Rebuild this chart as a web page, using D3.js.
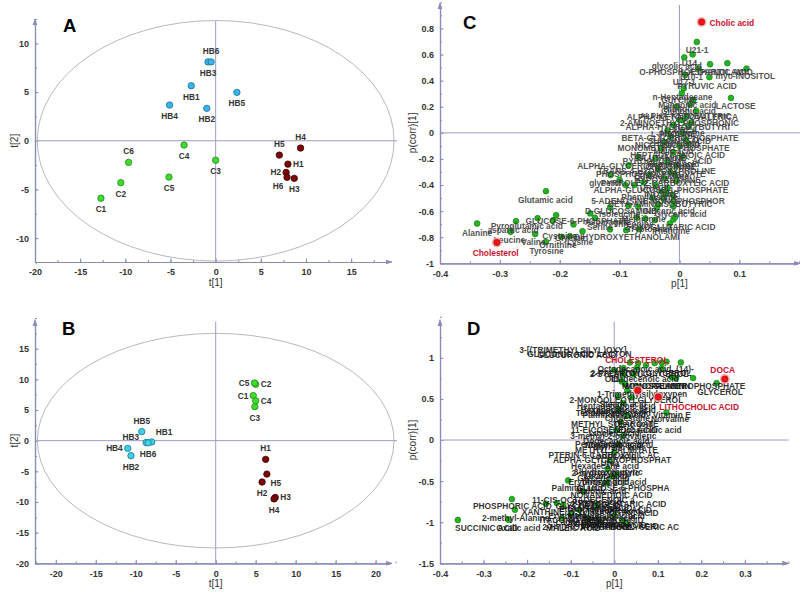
<!DOCTYPE html>
<html><head><meta charset="utf-8">
<script src="https://cdn.jsdelivr.net/npm/d3@7"></script>
<style>
html,body{margin:0;padding:0;background:#fff;}
svg{display:block;font-family:"Liberation Sans",Arial,sans-serif;}
</style></head>
<body>
<svg id="chart" width="800" height="599"></svg>
<script>
// ---------- DATA ----------
// Panel A (score plot)
const aNames = ['HB1','HB2','HB3','HB4','HB5','HB6','C1','C2','C3','C4','C5','C6','H1','H2','H3','H4','H5','H6'];
const aT1 = [-2.7,-0.98,-0.85,-5.1,2.35,-0.5,-12.7,-10.5,0.0,-3.5,-5.17,-9.64,8.0,7.8,8.7,9.4,7.05,7.9];
const aT2 = [5.65,3.33,8.1,3.67,4.97,8.1,-5.9,-4.3,-2.0,-0.44,-3.73,-2.22,-2.4,-3.25,-3.86,-0.75,-1.47,-3.75];
const aXTicks = [-20,-15,-10,-5,0,5,10,15];
const aYTicks = [-10,-5,0,5,10];
const aEllipse = [19.75, 12.35];

// Panel B (score plot)
const bNames = ['HB1','HB2','HB3','HB4','HB5','HB6','C1','C2','C3','C4','C5','H1','H2','H3','H4','H5'];
const bT1 = [-8.0,-10.6,-8.7,-11.0,-9.25,-8.45,4.7,5.0,4.9,5.0,4.85,6.25,5.8,7.45,7.3,6.4];
const bT2 = [-0.2,-2.45,-0.3,-1.25,1.47,-0.35,7.35,9.2,5.55,6.5,9.4,-3.05,-6.75,-9.25,-9.5,-5.45];
const bXTicks = [-20,-15,-10,-5,0,5,10,15,20];
const bYTicks = [-20,-15,-10,-5,0,5,10,15];
const bEllipse = [22.3, 17.5];

// Panel C (loading S-plot)
const cGreen = [
 [0.029,0.697],[0.022,0.601],[0.008,0.578],[0.051,0.526],[0.080,0.534],[0.112,0.493],[0.0095,0.444],[0.050,0.427],
 [0.032,0.493],[0.007,0.34],[0.004,0.302],[0.086,0.268],[0.023,0.25],[0.018,0.22],[0.028,0.169],[0.005,0.097],
 [0.012,0.13],[0.02,0.08],[-0.005,0.2],[0.0,0.1],[-0.01,0.06],[0.015,0.05],[-0.02,0.02],[0.005,0.0],
 [-0.015,-0.03],[0.01,-0.05],[-0.025,-0.07],[0.0,-0.1],[-0.03,-0.12],[-0.01,-0.15],[0.005,-0.18],[-0.04,-0.2],
 [-0.02,-0.22],[-0.005,-0.25],[-0.035,-0.28],[-0.015,-0.3],[-0.05,-0.32],[-0.025,-0.35],[-0.005,-0.37],[-0.04,-0.4],
 [-0.06,-0.38],[-0.02,-0.42],[-0.075,-0.4],[-0.03,-0.45],[-0.045,-0.5],[-0.09,-0.4],[-0.1,-0.36],[-0.01,-0.52],
 [-0.035,-0.55],[0.015,-0.08],[-0.008,-0.32],[-0.115,-0.324],[-0.085,-0.248],[-0.069,-0.184],
 [-0.116,-0.572],[-0.085,-0.559],[-0.069,-0.567],[-0.038,-0.575],[-0.027,-0.503],[-0.010,-0.562],[-0.011,-0.477],
 [-0.022,-0.465],[-0.149,-0.618],[-0.141,-0.651],[-0.116,-0.740],[-0.089,-0.746],[-0.067,-0.738],[-0.010,-0.664],
 [-0.016,-0.695],[-0.041,-0.669],[-0.057,-0.656],[-0.071,-0.649],[-0.177,-0.702],[-0.197,-0.797],[-0.183,-0.792],
 [-0.223,-0.447],[-0.338,-0.695],[-0.273,-0.677],[-0.237,-0.654],[-0.206,-0.631],[-0.211,-0.67],[-0.282,-0.759],
 [-0.241,-0.776],[-0.223,-0.835],[-0.162,-0.754],[-0.007,-0.644]
];
const cRed = [[0.037,0.85],[-0.305,-0.84]];
const cLabels = [
 ['U21-1',0.0295,0.633],['U14',0.0167,0.539],['glycolic acid',-0.0045,0.513],['O-PHOSPHOETHANOLAMI',0.022,0.467],
 ['L-ASPARTIC ACID',0.062,0.47],['U10-1',0.02,0.43],['myo-INOSITOL',0.110,0.432],['U17-1',0.008,0.39],['PYRUVIC ACID',0.046,0.36],
 ['n-Heptadecane',0.005,0.276],['GLYCINE',0.0,0.25],['Mannonic acid',0.013,0.212],['LACTOSE',0.094,0.204],['Ribitol',-0.005,0.18],
 ['Gluconic acid',0.015,0.17],['ALPHA-KETOBUTYRIC',0.01,0.128],['ALPHA-KETOISOVALERICA',0.005,0.12],
 ['2-AMINOETHYLPHOSPHONIC',0.0,0.072],['ALPHA-HYDROXYBUTYRI',-0.003,0.043],['UREA',0.01,0.02],['L-PROLINE',-0.01,-0.01],
 ['Methionine',0.005,0.0],['BETA-GLYCEROPHOSPHATE',0.001,-0.038],['SUCCINIC ACID',0.0,-0.06],['Citric acid',0.0,-0.08],
 ['NICOTINIC ACID',-0.02,-0.09],['MONOMETHYLPHOSPHATE',-0.01,-0.117],['Malic acid',-0.01,-0.14],
 ['HEPTADECANOIC ACID',-0.003,-0.166],['GLUTAMINE',-0.03,-0.19],['PYROGLUTAMIC ACID',-0.02,-0.212],['Fumaric acid',-0.01,-0.24],
 ['ALPHA-GLYCEROPHOSPHAT',-0.072,-0.253],['CREATININE',-0.015,-0.26],['TRANS-4-HYDROXYPROLINE',-0.038,-0.291],
 ['PHOSPHOENOLPYRUVATE',-0.048,-0.317],['Ethanolamine',-0.03,-0.33],['HYPOXANTHINE',-0.02,-0.36],
 ['glycerol',-0.124,-0.388],['PYRROLE-2-CARBOXYLIC ACID',-0.024,-0.388],['URACIL',-0.04,-0.42],['ALPHA-GLUCOSE-1-PHOSPHATE',-0.031,-0.44],
 ['INOSINE',-0.03,-0.47],['Phenylalanine',-0.05,-0.49],
 ['Glutamic acid',-0.224,-0.511],['5-ADENOSINE MONOPHOSPHOR',-0.036,-0.524],['BETA-AMINOISOBUTYRIC',-0.032,-0.547],
 ['D-GLUCOSAMINE',-0.098,-0.598],['Glucaric acid',-0.018,-0.598],['Isoleucine',-0.1,-0.62],['Glyceric acid',0.002,-0.623],
 ['Methionine',-0.06,-0.66],['GLUCOSE-6-PHOSPHATE',-0.171,-0.677],['Asparagine',-0.12,-0.68],['Pyroglutamic acid',-0.255,-0.715],
 ['aspartic acid',-0.278,-0.746],['Tryptophan',-0.05,-0.74],
 ['Alanine',-0.338,-0.766],['Leucine',-0.284,-0.822],['Valine',-0.244,-0.84],['Glycine',-0.183,-0.805],
 ['Ornithine',-0.203,-0.861],['Lysine',-0.166,-0.835],['Cysteine',-0.2,-0.79],['Serine',-0.133,-0.72],
 ['Threonine',-0.077,-0.70],['2-OXOGLUTARIC ACID',-0.016,-0.72],['Histidine',-0.012,-0.756],
 ['DIHYDROXYETHANOLAMI',-0.088,-0.80],['Tyrosine',-0.222,-0.904]
];
const cRedLabels = [['Cholic acid',0.0875,0.843],['Cholesterol',-0.307,-0.92]];
const cXTicks = [-0.4,-0.3,-0.2,-0.1,0,0.1];
const cYTicks = [-1,-0.8,-0.6,-0.4,-0.2,0,0.2,0.4,0.6,0.8];

// Panel D (loading S-plot)
const dGreen = [
 [0.036,0.944],[0.055,0.937],[0.073,0.912],[0.093,0.937],[0.109,0.944],[0.120,0.953],[0.153,0.944],[0.021,0.876],
 [0.053,0.883],[0.109,0.876],[0.132,0.766],[0.142,0.754],[0.181,0.754],[0.235,0.693],[0.053,0.652],[0.009,0.530],
 [0.120,0.336],[0.017,0.713],[0.021,0.794],[0.02,0.45],[0.01,0.38],[0.03,0.3],[0.015,0.22],[0.005,0.12],[0.02,0.05],
 [0.01,-0.05],[0.0,-0.15],[-0.01,-0.25],[-0.015,-0.35],[0.005,-0.42],[0.03,0.6],[0.04,0.52],[0.025,0.68],[0.0,0.85],
 [0.045,0.8],[-0.235,-0.718],[-0.228,-0.848],[-0.243,-0.970],[-0.106,-0.491],[-0.157,-0.775],[-0.132,-0.767],
 [-0.117,-0.787],[-0.071,-0.625],[-0.017,-0.523],[-0.006,-0.443],[-0.359,-0.973],[-0.1,-0.9],[-0.06,-0.95],
 [-0.03,-1.0],[0.0,-0.92],[-0.08,-0.85],[0.02,-0.98],[-0.12,-0.95],[-0.04,-0.8],[0.03,-1.02]
];
const dRed = [[0.254,0.742],[0.054,0.603],[0.101,0.523]];
const dLabels = [
 ['3-[(TRIMETHYLSILYL)OXY]',-0.095,1.091],['GLUCURONIC ACID',-0.086,1.038],['GLUCONIC ACID LACTON',-0.08,1.045],
 ['Octadecanoic acid, (14)-',0.072,0.864],['2-STEAROYLGLYCEROL',0.057,0.807],['2-PALMITOYLGLYCEROL',0.062,0.82],
 ['ID',0.002,0.742],['Octadecenoic acid',0.063,0.742],['MONOSTEARIN',0.09,0.661],['MONOPALMITIN',0.1,0.661],
 ['GLYCEROPHOSPHATE',0.195,0.661],['GLYCEROL',0.243,0.58],['1-Trimethylsilyloxypen',0.064,0.56],
 ['2-MONOOLEOYLGLYCEROL',0.028,0.491],['Stearic acid',0.02,0.44],['Heptadecanoic acid',0.005,0.41],['Hexadecanoic acid',0.009,0.369],
 ['Arachidic acid',0.01,0.35],['Tetradecanoic acid',-0.002,0.328],['Palmitoleic acid',0.0,0.3],['Vitamin E',0.132,0.308],
 ['Cholestane',0.03,0.27],['Norvaline',0.128,0.26],
 ['METHYL STEAROATE',0.0015,0.195],['Oleic acid',0.044,0.195],['11-EICOSENOIC ACID',0.0,0.126],['Eicosanoic acid',0.082,0.126],
 ['Linoleic acid',0.0,0.08],['3-methyl-2-oxovaleric',-0.002,0.045],['Dodecanoic acid',0.005,-0.016],['Pentadecanoic acid',0.0,-0.05],
 ['Nonanoic acid',-0.002,-0.065],['Myristic acid',0.01,-0.09],
 ['METHYL PALMITATE',0.005,-0.118],['PTERIN-6-CARBOXYLIC AC',-0.024,-0.178],['Lauric acid',0.0,-0.2],['ALPHA-GLYCEROPHOSPHAT',-0.005,-0.247],
 ['Urea',-0.01,-0.28],['Hexadecane acid',-0.021,-0.32],['3-Hydroxybutyric',-0.014,-0.389],['2-hydroxybutyric',-0.02,-0.40],
 ['Lactic acid',-0.02,-0.44],['Glyceric acid',-0.025,-0.462],['Erythronic acid',-0.035,-0.515],['phosphoric acid',0.0,-0.515],
 ['Palmitic acid',-0.085,-0.584],['GLUCOSE-6-PHOSPHA',0.02,-0.584],['Malonic acid',-0.03,-0.62],['NONANEDIOIC ACID',-0.006,-0.665],
 ['11-CIS-OCTADECENOIC a',-0.071,-0.726],['Pyruvic acid',-0.04,-0.76],['2-KETOGLUTARIC ACID',0.01,-0.78],['GLYCOLIC ACID',-0.06,-0.8],
 ['PHOSPHORIC ACID',-0.234,-0.807],['XANTHINE',-0.163,-0.876],
 ['2-methyl-Alanine',-0.226,-0.949],['SUCCINIC ACID',-0.293,-1.075],['Oxalic acid',-0.220,-1.075],
 ['GLUTARIC ACID',-0.033,-0.827],['D-Xylose',-0.064,-0.888],['Threonic acid',-0.002,-0.868],['ADIPIC ACID',0.028,-0.848],
 ['L-Lactic acid',-0.094,-1.002],['Glycolic acid',-0.033,-1.018],['2-HYDROXYPYRIDINE',-0.064,-1.058],
 ['TARTARIC ACID',0.028,-1.05],['MALEIC ACID',-0.094,-1.07],['BENZOIC ACID',-0.002,-0.969],
 ['PHOSPHOGLYCERIC AC',0.036,-1.062],['Erythritol',-0.109,-0.929],['Methylmalonic acid',-0.018,-0.92],
 ['CITRIC ACID',0.044,-0.888],['Ethanolamine',-0.064,-0.84],['Citramalic acid',-0.02,-0.95],['ISOCITRIC ACID',0.0,-1.03],
 ['MALIC ACID',-0.05,-1.0],['ITACONIC ACID',-0.1,-0.97]
];
const dRedLabels = [['CHOLESTEROL',0.052,0.977],['DOCA',0.249,0.848],['LITHOCHOLIC ACID',0.195,0.406]];
const dXTicks = [-0.4,-0.3,-0.2,-0.1,0,0.1,0.2,0.3];
const dYTicks = [-1.5,-1,-0.5,0,0.5,1];

// ---------- DRAWING ----------
const svg = d3.select('#chart');
const AXIS = '#8a8ab8', ZERO = '#9c9cc8', TXT = '#333';
const fmt = d => String(+(+d).toFixed(2));

svg.append('defs').append('marker')
  .attr('id','arrow').attr('viewBox','0 0 10 10').attr('refX',9).attr('refY',5)
  .attr('markerWidth',7).attr('markerHeight',7).attr('orient','auto')
  .append('path').attr('d','M0,1.5L10,5L0,8.5Z').attr('fill',AXIS);

function frame(cfg){
  const g = svg.append('g');
  const x = d3.scaleLinear().domain(cfg.xd).range(cfg.xr);
  const y = d3.scaleLinear().domain(cfg.yd).range(cfg.yr);
  const bottom = cfg.yr[0], left = cfg.xr[0];
  g.append('g').attr('transform',`translate(0,${bottom})`)
    .call(d3.axisBottom(x).tickValues(cfg.xMinor).tickSize(-2).tickFormat('').tickSizeOuter(0));
  g.append('g').attr('transform',`translate(${left},0)`)
    .call(d3.axisLeft(y).tickValues(cfg.yMinor).tickSize(-2).tickFormat('').tickSizeOuter(0));
  g.append('g').attr('transform',`translate(0,${bottom})`)
    .call(d3.axisBottom(x).tickValues(cfg.xt).tickSize(-3.5).tickPadding(7).tickFormat(fmt).tickSizeOuter(0));
  g.append('g').attr('transform',`translate(${left},0)`)
    .call(d3.axisLeft(y).tickValues(cfg.yt).tickSize(-3.5).tickPadding(6).tickFormat(fmt).tickSizeOuter(0));
  g.selectAll('.domain').attr('stroke',AXIS).attr('stroke-width',1.2);
  g.selectAll('.tick line').attr('stroke',AXIS);
  g.selectAll('.tick text').attr('fill',TXT).attr('font-size',9).attr('font-weight','bold')
    .attr('font-family','"Liberation Sans",Arial,sans-serif');
  g.append('line').attr('x1',cfg.xr[1]-4).attr('x2',cfg.xr[1]+2).attr('y1',bottom).attr('y2',bottom)
    .attr('stroke',AXIS).attr('marker-end','url(#arrow)');
  g.append('line').attr('x1',left).attr('x2',left).attr('y1',cfg.yr[1]+4).attr('y2',cfg.yr[1]-2)
    .attr('stroke',AXIS).attr('marker-end','url(#arrow)');
  if(cfg.ell){
    g.append('ellipse').attr('cx',x(0)).attr('cy',y(0))
      .attr('rx',x(cfg.ell[0])-x(0)).attr('ry',y(0)-y(cfg.ell[1]))
      .attr('fill','none').attr('stroke','#b9b9b9').attr('stroke-width',1);
  }
  const hx0 = cfg.ell ? x(-cfg.ell[0]) : left;
  const hx1 = cfg.ell ? x(cfg.ell[0])+3 : cfg.xr[1]+2;
  g.append('line').attr('x1',hx0).attr('x2',hx1).attr('y1',y(0)).attr('y2',y(0)).attr('stroke',ZERO).attr('stroke-width',1);
  g.append('line').attr('x1',x(0)).attr('x2',x(0)).attr('y1',cfg.yr[1]).attr('y2',bottom).attr('stroke',ZERO).attr('stroke-width',1);
  g.append('text').attr('x',x(0)).attr('y',bottom+24)
    .attr('text-anchor','middle').attr('font-size',10).attr('fill',TXT).text(cfg.xTitle);
  g.append('text').attr('transform',`translate(${cfg.yTitleX},${y(0)}) rotate(-90)`)
    .attr('text-anchor','middle').attr('font-size',10).attr('fill',TXT).text(cfg.yTitle);
  g.append('text').attr('x',cfg.letter[1]).attr('y',cfg.letter[2]).attr('font-size',18.5)
    .attr('font-weight','bold').attr('fill','#000').text(cfg.letter[0]);
  return {g,x,y};
}

const groupStyle = n => n.startsWith('HB') ? 'hb' : (n.startsWith('C') ? 'c' : 'h');

function scorePoints(f, names, t1, t2, place, hbFill){
  const fills = {hb:hbFill, c:'#3fdc2c', h:'#7d0505'};
  const strokes = {hb:'#1f6f8c', c:'#1f8a1a', h:'#3e0000'};
  const data = names.map((n,i)=>({n, a:t1[i], b:t2[i], k:groupStyle(n)}));
  f.g.selectAll(null).data(data).enter().append('circle')
    .attr('cx',d=>f.x(d.a)).attr('cy',d=>f.y(d.b)).attr('r',3.2)
    .attr('fill',d=>fills[d.k]).attr('stroke',d=>strokes[d.k]).attr('stroke-width',0.8);
  const off = {t:[0,-11,'middle'], b:[0,11,'middle'], r:[5,0,'start'], l:[-5,0,'end'],
               bl:[-9,9,'middle'], br:[9,9,'middle'], tr:[4,-10,'start'], tl:[-7,-6,'end']};
  f.g.selectAll(null).data(data).enter().append('text')
    .attr('x',d=>f.x(d.a)+off[place[d.n]][0]).attr('y',d=>f.y(d.b)+off[place[d.n]][1])
    .attr('text-anchor',d=>off[place[d.n]][2]).attr('dominant-baseline','central')
    .attr('font-size',8.3).attr('font-weight','bold').attr('fill','#333').text(d=>d.n);
}

function loadings(f, green, red, labels, redLabels, txtColor){
  f.g.selectAll(null).data(green).enter().append('circle')
    .attr('cx',d=>f.x(d[0])).attr('cy',d=>f.y(d[1])).attr('r',2.9)
    .attr('fill','#22b422').attr('stroke','#137313').attr('stroke-width',0.6);
  f.g.selectAll(null).data(labels).enter().append('text')
    .attr('x',d=>f.x(d[1])).attr('y',d=>f.y(d[2])).attr('text-anchor','middle').attr('dominant-baseline','central')
    .attr('font-size',8.4).attr('font-weight','bold').attr('fill',txtColor).attr('fill-opacity',0.9).text(d=>d[0]);
  f.g.selectAll(null).data(red).enter().append('circle')
    .attr('cx',d=>f.x(d[0])).attr('cy',d=>f.y(d[1])).attr('r',5)
    .attr('fill','#f5a0a0').attr('opacity',0.8);
  f.g.selectAll(null).data(red).enter().append('circle')
    .attr('cx',d=>f.x(d[0])).attr('cy',d=>f.y(d[1])).attr('r',3.2)
    .attr('fill','#e8141c').attr('stroke','#b00000').attr('stroke-width',0.5);
  f.g.selectAll(null).data(redLabels).enter().append('text')
    .attr('x',d=>f.x(d[1])).attr('y',d=>f.y(d[2])).attr('text-anchor','middle').attr('dominant-baseline','central')
    .attr('font-size',8.4).attr('font-weight','bold').attr('fill','#c8102e').text(d=>d[0]);
}

const minor = (a,b,s) => d3.range(Math.round(a/s), Math.round(b/s)+1).map(i=>+(i*s).toFixed(3));

const fA = frame({xd:[-20,19.3], xr:[35,390], yd:[-12.45,12.3], yr:[262,21],
  xt:aXTicks, yt:aYTicks, xMinor:minor(-20,17.5,2.5), yMinor:minor(-12.45,12.3,2.5),
  ell:aEllipse, xTitle:'t[1]', yTitle:'t[2]', yTitleX:18, letter:['A',63,32]});
scorePoints(fA, aNames, aT1, aT2,
  {HB1:'b',HB2:'b',HB3:'b',HB4:'b',HB5:'b',HB6:'t',C1:'b',C2:'b',C3:'b',C4:'b',C5:'b',C6:'t',
   H1:'r',H2:'l',H3:'b',H4:'t',H5:'t',H6:'bl'}, '#36b6ea');

const fB = frame({xd:[-22.6,21.8], xr:[35,390], yd:[-20,19.4], yr:[563.3,321.7],
  xt:bXTicks, yt:bYTicks, xMinor:minor(-22.5,21.8,2.5), yMinor:minor(-20,19.4,2.5),
  ell:bEllipse, xTitle:'t[1]', yTitle:'t[2]', yTitleX:18, letter:['B',62,335]});
scorePoints(fB, bNames, bT1, bT2,
  {HB1:'tr',HB2:'b',HB3:'tl',HB4:'l',HB5:'t',HB6:'b',C1:'l',C2:'r',C3:'b',C4:'r',C5:'l',
   H1:'t',H2:'b',H3:'r',H4:'b',H5:'br'}, '#3ed2e6');

const fC = frame({xd:[-0.4,0.198], xr:[440,798], yd:[-1,0.98], yr:[263.3,5],
  xt:cXTicks, yt:cYTicks, xMinor:minor(-0.4,0.19,0.05), yMinor:minor(-1,0.98,0.1),
  ell:null, xTitle:'p[1]', yTitle:'p(corr)[1]', yTitleX:416, letter:['C',463,28.5]});
loadings(fC, cGreen, cRed, cLabels, cRedLabels, '#3a3a3a');

const fD = frame({xd:[-0.4,0.396], xr:[440,786.7], yd:[-1.5,1.44], yr:[563.3,321.7],
  xt:dXTicks, yt:dYTicks, xMinor:minor(-0.4,0.39,0.05), yMinor:minor(-1.5,1.44,0.25),
  ell:null, xTitle:'p[1]', yTitle:'p(corr)[1]', yTitleX:416, letter:['D',467,335]});
loadings(fD, dGreen, dRed, dLabels, dRedLabels, '#151515');
</script>
</body></html>
